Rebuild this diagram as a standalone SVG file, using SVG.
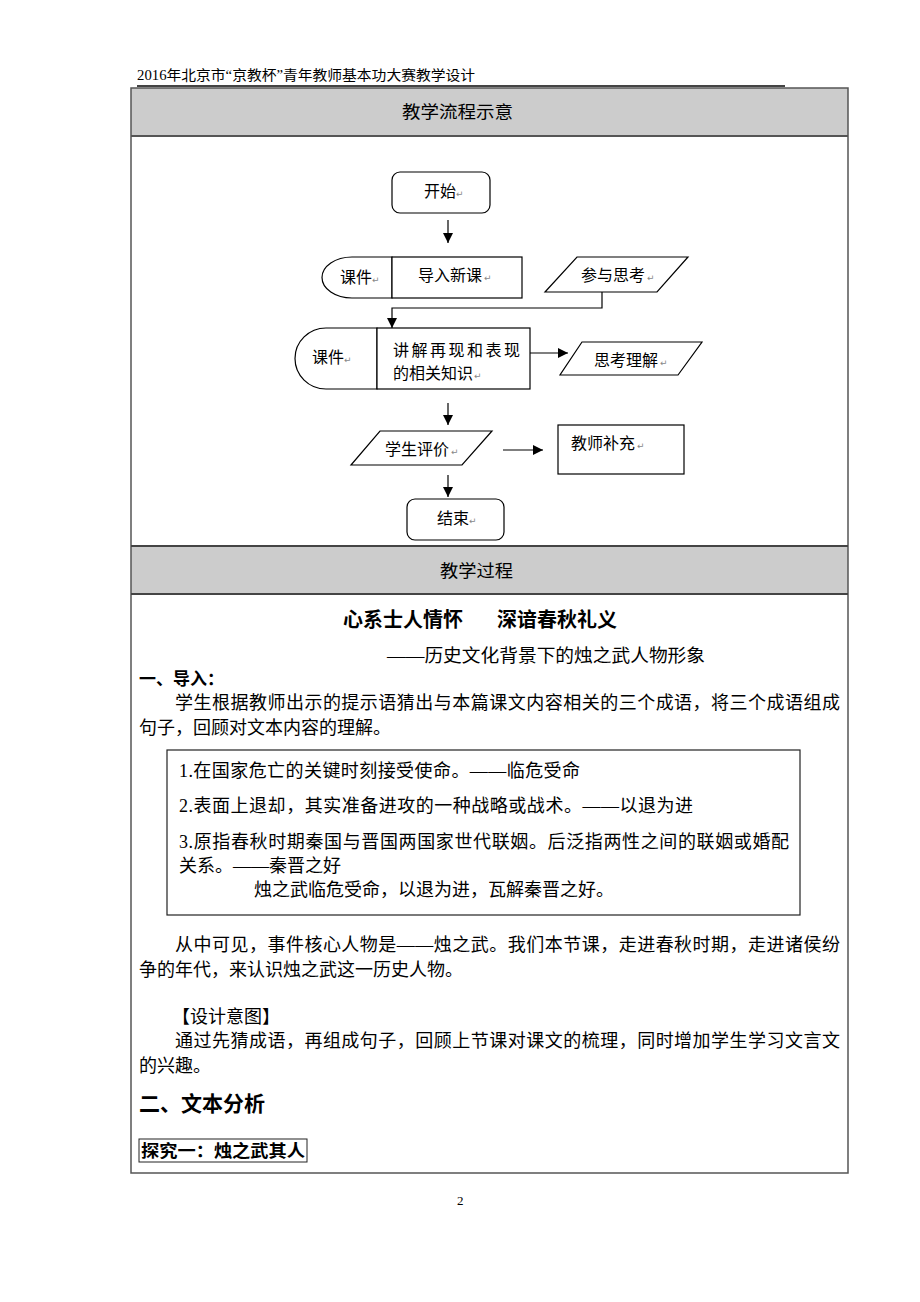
<svg xmlns="http://www.w3.org/2000/svg" width="920" height="1302" viewBox="0 0 920 1302">
<defs>
<marker id="ah" viewBox="0 0 10 10" refX="10" refY="5" markerWidth="10" markerHeight="10" markerUnits="userSpaceOnUse" orient="auto">
<path d="M0,0 L10,5 L0,10 Z" fill="#000"/>
</marker>
<style>
.serif{font-family:"Liberation Serif","Noto Sans CJK SC",serif;fill:#000}
.sans{font-family:"Noto Sans CJK SC","Liberation Sans",sans-serif;fill:#000}
.fc{font-family:"Noto Sans CJK SC","Liberation Sans",sans-serif;font-size:16px;fill:#000}
.pm{font-family:"DejaVu Sans",sans-serif;font-size:9px;fill:#888}
.shape{fill:#fff;stroke:#000;stroke-width:1.2}
.conn{fill:none;stroke:#000;stroke-width:1.2}
.body{font-size:18px}
</style>
</defs>
<rect width="920" height="1302" fill="#fff"/>

<g id="page-header">
<text class="serif" x="137" y="80" font-size="14" textLength="338" lengthAdjust="spacingAndGlyphs">2016年北京市“京教杯”青年教师基本功大赛教学设计</text>
<line x1="137" y1="86" x2="785" y2="86" stroke="#444" stroke-width="2"/>
</g>

<g id="table">
<rect x="131" y="88" width="717" height="48" fill="#cccccc"/>
<rect x="131" y="546" width="717" height="48" fill="#cccccc"/>
<rect x="131" y="88" width="717" height="1085" fill="none" stroke="#555" stroke-width="1.5"/>
<line x1="131" y1="136" x2="848" y2="136" stroke="#555" stroke-width="2"/>
<line x1="131" y1="546" x2="848" y2="546" stroke="#444" stroke-width="2"/>
<line x1="131" y1="594" x2="848" y2="594" stroke="#444" stroke-width="2"/>
<text class="sans" x="402" y="118" font-size="17.5" textLength="111" lengthAdjust="spacingAndGlyphs">教学流程示意</text>
<text class="sans" x="440" y="577" font-size="17.5" textLength="73" lengthAdjust="spacingAndGlyphs">教学过程</text>
</g>

<g id="node-start">
<rect class="shape" x="392" y="172" width="98" height="41" rx="8"/>
<text class="fc" x="424" y="197">开始</text><text class="pm" x="456" y="197">↵</text>
</g>

<g id="node-intro">
<path class="shape" d="M392,257 H352 A30,20.5 0 0 0 352,298 H392 Z"/>
<rect class="shape" x="392" y="257" width="130" height="41"/>
<text class="fc" x="340" y="283">课件</text><text class="pm" x="372" y="283">↵</text>
<text class="fc" x="418" y="281">导入新课</text><text class="pm" x="484" y="281">↵</text>
</g>

<g id="node-participate">
<polygon class="shape" points="577,257 688,257 657,292 545,292"/>
<text class="fc" x="581" y="281">参与思考</text><text class="pm" x="647" y="281">↵</text>
</g>

<g id="node-explain">
<path class="shape" d="M377,328 H326 A31,30.5 0 0 0 326,389 H377 Z"/>
<rect class="shape" x="377" y="328" width="153" height="61"/>
<text class="fc" x="312" y="363">课件</text><text class="pm" x="344" y="363">↵</text>
<text class="fc" x="393" y="356" textLength="127" lengthAdjust="spacing">讲解再现和表现</text>
<text class="fc" x="393" y="379">的相关知识</text><text class="pm" x="474" y="379">↵</text>
</g>

<g id="node-think">
<polygon class="shape" points="582,342 702,342 678,375 560,375"/>
<text class="fc" x="594" y="366">思考理解</text><text class="pm" x="660" y="366">↵</text>
</g>

<g id="node-evaluate">
<polygon class="shape" points="380,431 492,431 462,465 351,465"/>
<text class="fc" x="385" y="455">学生评价</text><text class="pm" x="451" y="455">↵</text>
</g>

<g id="node-supplement">
<rect class="shape" x="558" y="425" width="126" height="49"/>
<text class="fc" x="571" y="449">教师补充</text><text class="pm" x="637" y="449">↵</text>
</g>

<g id="node-end">
<rect class="shape" x="407" y="499" width="97" height="41" rx="8"/>
<text class="fc" x="437" y="524">结束</text><text class="pm" x="469" y="524">↵</text>
</g>

<g id="connectors">
<line class="conn" x1="448" y1="220" x2="448" y2="243" marker-end="url(#ah)"/>
<polyline class="conn" points="602,292 602,308 392,308 392,328" marker-end="url(#ah)"/>
<line class="conn" x1="530" y1="353" x2="568" y2="353" marker-end="url(#ah)"/>
<line class="conn" x1="448" y1="403" x2="448" y2="425" marker-end="url(#ah)"/>
<line class="conn" x1="503" y1="450" x2="543" y2="450" marker-end="url(#ah)"/>
<line class="conn" x1="448" y1="475" x2="448" y2="497" marker-end="url(#ah)"/>
</g>

<g id="content">
<text class="serif" x="343" y="627" font-size="20" font-weight="bold">心系士人情怀</text>
<text class="serif" x="497" y="627" font-size="20" font-weight="bold">深谙春秋礼义</text>
<text class="serif body" x="387" y="662" textLength="318" lengthAdjust="spacingAndGlyphs">——历史文化背景下的烛之武人物形象</text>
<text class="serif" x="139" y="685" font-size="17" font-weight="bold">一、导入：</text>
<text class="serif body" x="175" y="709" textLength="665" lengthAdjust="spacing">学生根据教师出示的提示语猜出与本篇课文内容相关的三个成语，将三个成语组成</text>
<text class="serif body" x="139" y="734">句子，回顾对文本内容的理解。</text>

<rect x="167" y="750" width="633" height="165" fill="none" stroke="#222" stroke-width="1.2"/>
<text class="serif body" x="179" y="777" textLength="401" lengthAdjust="spacing">1.在国家危亡的关键时刻接受使命。——临危受命</text>
<text class="serif body" x="179" y="812" textLength="514" lengthAdjust="spacing">2.表面上退却，其实准备进攻的一种战略或战术。——以退为进</text>
<text class="serif body" x="179" y="848" textLength="610" lengthAdjust="spacing">3.原指春秋时期秦国与晋国两国家世代联姻。后泛指两性之间的联姻或婚配</text>
<text class="serif body" x="179" y="872">关系。——秦晋之好</text>
<text class="serif body" x="254" y="896">烛之武临危受命，以退为进，瓦解秦晋之好。</text>

<text class="serif body" x="175" y="951" textLength="665" lengthAdjust="spacing">从中可见，事件核心人物是——烛之武。我们本节课，走进春秋时期，走进诸侯纷</text>
<text class="serif body" x="139" y="976">争的年代，来认识烛之武这一历史人物。</text>
<text class="serif body" x="172" y="1023">【设计意图】</text>
<text class="serif body" x="175" y="1047" textLength="665" lengthAdjust="spacing">通过先猜成语，再组成句子，回顾上节课对课文的梳理，同时增加学生学习文言文</text>
<text class="serif body" x="139" y="1072">的兴趣。</text>
<text class="serif" x="139" y="1111" font-size="21" font-weight="bold">二、文本分析</text>
<rect x="139" y="1139" width="168" height="23" fill="none" stroke="#222" stroke-width="1"/>
<text class="serif" x="141" y="1157" font-size="17" font-weight="bold" textLength="164" lengthAdjust="spacingAndGlyphs">探究一：烛之武其人</text>
</g>

<g id="page-number">
<text class="serif" x="457" y="1205" font-size="13">2</text>
</g>
</svg>
